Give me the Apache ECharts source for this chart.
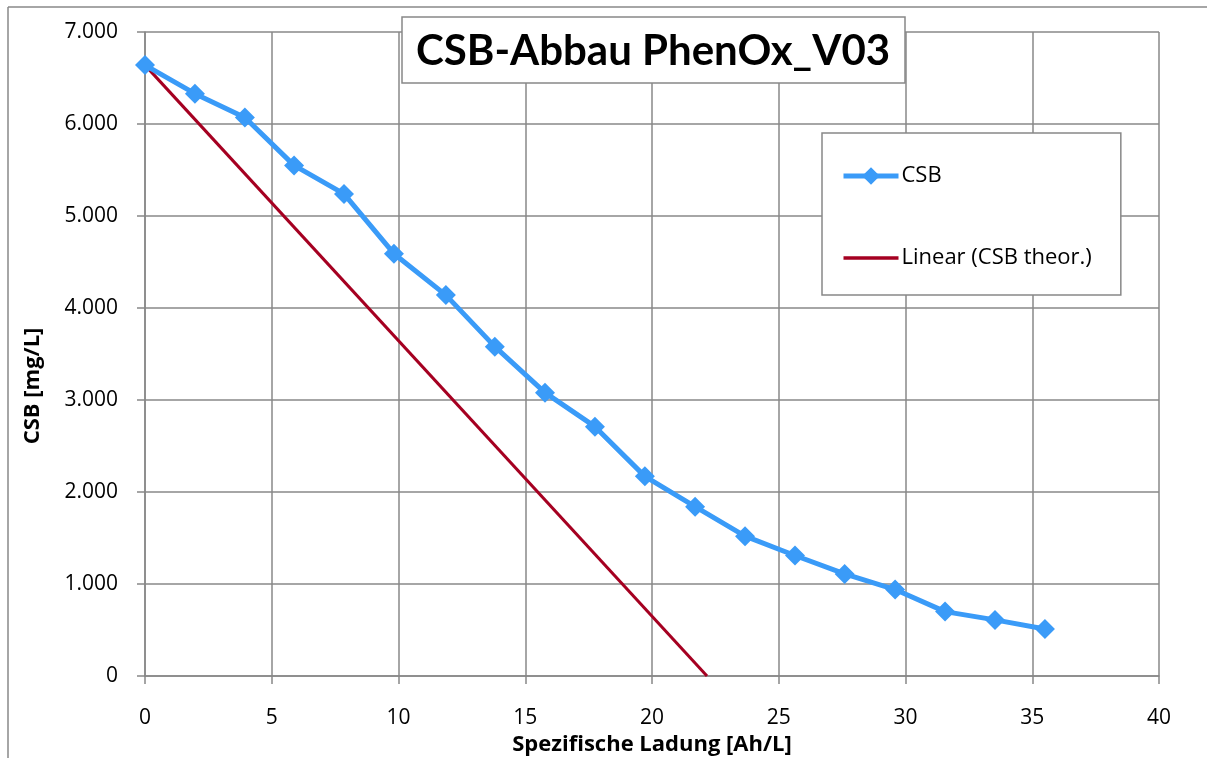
<!DOCTYPE html>
<html><head><meta charset="utf-8">
<script src="https://cdn.jsdelivr.net/npm/echarts@6/dist/echarts.min.js"></script>
<style>html,body{margin:0;padding:0;background:#fff}#c{width:1207px;height:758px}</style>
</head><body><div id="c"></div>
<script>
const titleText = 'CSB-Abbau PhenOx_V03';
const xName = 'Spezifische Ladung [Ah/L]';
const yName = 'CSB [mg/L]';
const csbX = [0, 1.97, 3.94, 5.88, 7.85, 9.82, 11.87, 13.8, 15.78, 17.75, 19.72, 21.7, 23.67, 25.64, 27.6, 29.59, 31.56, 33.53, 35.5];
const csbY = [6640, 6330, 6070, 5550, 5240, 4590, 4140, 3580, 3080, 2710, 2170, 1840, 1520, 1310, 1110, 940, 700, 610, 510];
const linX = [0, 22.17];
const linY = [6640, 0];
const font = '"Open Sans", Lato, sans-serif';
const chart = echarts.init(document.getElementById('c'));
chart.setOption({
  animation: false,
  graphic: [
    {type:'line', shape:{x1:8,y1:7,x2:1207,y2:7}, style:{stroke:'#888', lineWidth:1.5}, z:-10},
    {type:'line', shape:{x1:8,y1:7,x2:8,y2:758}, style:{stroke:'#888', lineWidth:1.5}, z:-10},
    {type:'rect', shape:{x:402,y:17,width:503,height:66}, style:{fill:'#fff', stroke:'#888', lineWidth:1.5}, z:10},
    {type:'text', x:653, y:51, style:{text:titleText, font:'bold 42px Lato, sans-serif', fill:'#000', align:'center', verticalAlign:'middle'}, z:11},
    {type:'text', x:33, y:386, rotation:Math.PI/2, style:{text:yName, font:'bold 22px '+font, fill:'#000', align:'center', verticalAlign:'middle'}, z:11}
  ],
  grid: {left:145, right:48, top:32, bottom:82, containLabel:false, outerBoundsMode:'none'},
  legend: {
    orient:'vertical', left:822, top:133,
    padding:[32,29,26,19], itemGap:60, itemWidth:55, itemHeight:22,
    backgroundColor:'#fff', borderColor:'#888', borderWidth:1.5,
    textStyle:{fontFamily:font, fontSize:22, color:'#000', padding:[0,0,0,-2]},
    data:[
      {name:'CSB', lineStyle:{width:5}},
      {name:'Linear (CSB theor.)', icon:'path://M0,0 L55,0 L55,3.5 L0,3.5 Z'}
    ]
  },
  xAxis: {
    type:'value', min:0, max:40, interval:5,
    name:xName, nameLocation:'middle', nameGap:55,
    nameTextStyle:{fontFamily:font, fontSize:22, fontWeight:'bold', color:'#000'},
    axisLine:{show:true, lineStyle:{color:'#888', width:1.5}},
    axisTick:{show:true, length:8, inside:false, lineStyle:{color:'#888', width:1.5}},
    axisLabel:{fontFamily:font, fontSize:21, color:'#000', margin:32},
    splitLine:{show:true, lineStyle:{color:'#888', width:1.5}}
  },
  yAxis: {
    type:'value', min:0, max:7000, interval:1000,
    axisLine:{show:true, lineStyle:{color:'#888', width:1.5}},
    axisTick:{show:true, length:8, lineStyle:{color:'#888', width:1.5}},
    axisLabel:{fontFamily:font, fontSize:21, color:'#000', margin:27,
      formatter:v => v === 0 ? '0' : (v/1000).toFixed(3)},
    splitLine:{show:true, lineStyle:{color:'#888', width:1.5}}
  },
  series: [
    {name:'Linear (CSB theor.)', type:'line', data:linX.map((x,i)=>[x, linY[i]]),
     symbol:'none', lineStyle:{color:'#A50021', width:3}, itemStyle:{color:'#A50021'}, z:2},
    {name:'CSB', type:'line', data:csbX.map((x,i)=>[x, csbY[i]]),
     symbol:'diamond', symbolSize:20, showAllSymbol:true,
     lineStyle:{color:'#3A9BF8', width:5}, itemStyle:{color:'#3A9BF8'}, z:3}
  ]
});
</script></body></html>
